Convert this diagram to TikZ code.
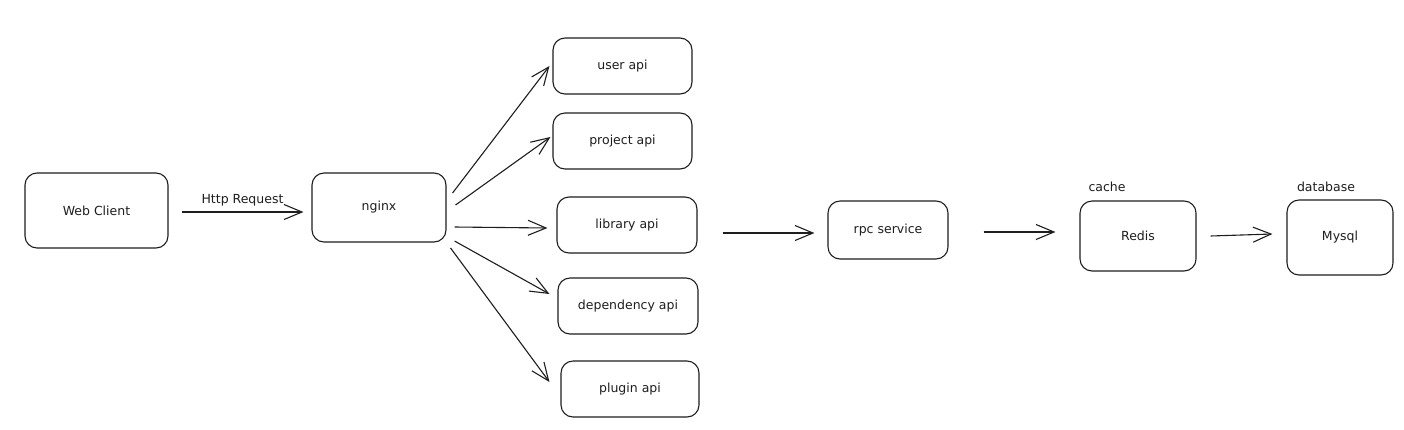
\documentclass[tikz,border=0pt]{standalone}
\usepackage{fontspec}
\setmainfont{DejaVu Sans}
\usetikzlibrary{arrows.meta,calc}
\definecolor{ink}{HTML}{1E1E1E}
\begin{document}
\begin{tikzpicture}[x=1pt,y=-1pt,
  box/.style={draw=ink,line width=1.1pt,rounded corners=12pt,inner sep=0pt,font=\fontsize{12.5}{14}\selectfont,text=ink},
  arr/.style={draw=ink,line width=1.1pt,-{Straight Barb[length=18pt,width=15pt,line width=1.1pt]}},
  lbl/.style={font=\fontsize{12.5}{14}\selectfont,text=ink,inner sep=0pt}]
\useasboundingbox[fill=white] (0,0) rectangle (1404,429);
\node[box,minimum width=143pt,minimum height=75pt] (wc) at (96.5,210.5) {Web Client};
\node[box,minimum width=134pt,minimum height=69pt] (nginx) at (379,207.5) {nginx};
\node[box,minimum width=139pt,minimum height=56pt] (user) at (622.5,66) {user api};
\node[box,minimum width=139pt,minimum height=56pt] (project) at (622.5,141) {project api};
\node[box,minimum width=140pt,minimum height=56pt] (library) at (627,225) {library api};
\node[box,minimum width=140pt,minimum height=56pt] (dep) at (628,306) {dependency api};
\node[box,minimum width=138pt,minimum height=56pt] (plugin) at (630,389) {plugin api};
\node[box,minimum width=120pt,minimum height=58pt] (rpc) at (888,230) {rpc service};
\node[box,minimum width=116pt,minimum height=70pt] (redis) at (1138,236) {Redis};
\node[box,minimum width=106pt,minimum height=75pt] (mysql) at (1340,237.5) {Mysql};
\node[lbl] (cache) at (1107,187) {cache};
\node[lbl] (db) at (1326,187) {database};
\draw[arr] ($(wc.east)+(13,1.5)$) -- node[lbl,above=5pt] (http) {Http Request} ($(nginx.west)+(-8,4.5)$);
\draw[arr] ($(nginx.east)+(6,-14.5)$) -- ($(user.west)+(-3,0)$);
\draw[arr] ($(nginx.east)+(9,-2.5)$) -- ($(project.west)+(-2,-4)$);
\draw[arr] ($(nginx.east)+(8,19.5)$) -- ($(library.west)+(-9,3)$);
\draw[arr] ($(nginx.east)+(8,33.5)$) -- ($(dep.west)+(-8,-12)$);
\draw[arr] ($(nginx.east)+(4,40.5)$) -- ($(plugin.west)+(-11,-7)$);
\draw[arr] ($(library.east)+(25,8)$) -- ($(rpc.west)+(-13,3)$);
\draw[arr] ($(rpc.east)+(35,2)$) -- ($(redis.west)+(-24,-4)$);
\draw[arr] ($(redis.east)+(14,0)$) -- ($(mysql.west)+(-14,-3.5)$);
\end{tikzpicture}
\end{document}
